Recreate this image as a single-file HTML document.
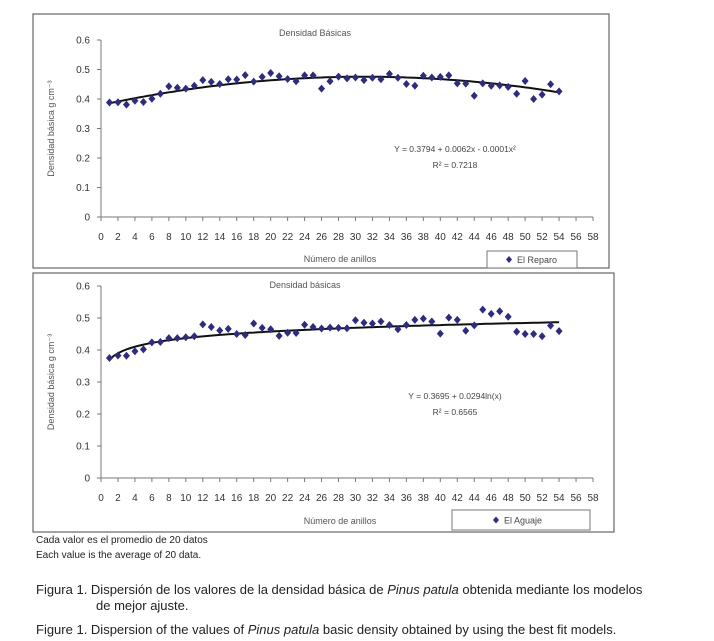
<!DOCTYPE html>
<html><head><meta charset="utf-8"><style>
body{margin:0;background:#fff;width:714px;height:641px;overflow:hidden;font-family:"Liberation Sans",sans-serif;}
svg{position:absolute;left:0;top:0}
.cap{position:absolute;color:#222;font-family:"Liberation Sans",sans-serif;white-space:nowrap}
</style></head><body>
<svg id="chart" width="714" height="641"></svg>
<div class="cap" style="left:36px;top:535px;font-size:10px">Cada valor es el promedio de 20 datos</div>
<div class="cap" style="left:36px;top:550px;font-size:10px">Each value is the average of 20 data.</div>
<div class="cap" style="left:36px;top:582px;font-size:13px;line-height:16px">Figura 1. Dispersión de los valores de la densidad básica de <i>Pinus patula</i> obtenida mediante los modelos<br><span style="padding-left:60px">de mejor ajuste.</span></div>
<div class="cap" style="left:36px;top:622px;font-size:13px">Figure 1. Dispersion of the values of <i>Pinus patula</i> basic density obtained by using the best fit models.</div>
<script>
const rings = Array.from({length:54},(_, i)=>i+1);
const reparoValues = [0.388,0.389,0.381,0.394,0.39,0.401,0.418,0.443,0.438,0.435,0.445,0.464,0.458,0.451,0.467,0.466,0.481,0.459,0.475,0.488,0.477,0.468,0.46,0.48,0.48,0.435,0.46,0.476,0.47,0.473,0.464,0.472,0.467,0.485,0.472,0.451,0.445,0.479,0.473,0.475,0.48,0.453,0.452,0.411,0.453,0.445,0.446,0.441,0.418,0.461,0.4,0.415,0.45,0.426];
const aguajeValues = [0.375,0.383,0.382,0.396,0.402,0.424,0.425,0.437,0.437,0.44,0.443,0.48,0.472,0.461,0.466,0.45,0.447,0.483,0.469,0.465,0.444,0.454,0.453,0.479,0.472,0.467,0.47,0.469,0.468,0.493,0.485,0.483,0.489,0.478,0.465,0.478,0.494,0.498,0.489,0.451,0.501,0.494,0.46,0.477,0.526,0.513,0.521,0.504,0.457,0.45,0.45,0.443,0.476,0.459];
const xTicks = [0,2,4,6,8,10,12,14,16,18,20,22,24,26,28,30,32,34,36,38,40,42,44,46,48,50,52,54,56,58];
const yTicks = [0,0.1,0.2,0.3,0.4,0.5,0.6];
const NS="http://www.w3.org/2000/svg";
const svg=document.getElementById('chart');
function el(tag,attrs,parent){const e=document.createElementNS(NS,tag);for(const k in attrs)e.setAttribute(k,attrs[k]);(parent||svg).appendChild(e);return e;}
function txt(x,y,s,size,anchor,fill,parent){const t=el('text',{x:x,y:y,'font-size':size,'text-anchor':anchor||'start',fill:fill||'#333','font-family':'Liberation Sans, sans-serif'},parent);t.textContent=s;return t;}
function drawChart(cfg){
  const g=el('g',{});
  
  
  const box=el('rect',{x:cfg.bx,y:cfg.by,width:cfg.bw,height:cfg.bh,fill:'#fff',stroke:'#666','stroke-width':1.2},g);
  
  
  const x0=101,x1=593;
  const xs=v=>x0+(v/58)*(x1-x0);
  const ys=v=>cfg.y0-(v/0.6)*(cfg.y0-cfg.yTop);
  el('line',{x1:x0,y1:cfg.yTop,x2:x0,y2:cfg.y0,stroke:'#777','stroke-width':1},g);
  el('line',{x1:x0,y1:cfg.y0,x2:x1,y2:cfg.y0,stroke:'#777','stroke-width':1},g);
  yTicks.forEach(v=>{el('line',{x1:x0-4,y1:ys(v),x2:x0,y2:ys(v),stroke:'#777'},g);
    const t=txt(90,ys(v)+3.5,v===0?'0':v.toFixed(1),10,'end','#333',g);
    });
  xTicks.forEach(v=>{el('line',{x1:xs(v),y1:cfg.y0,x2:xs(v),y2:cfg.y0+4,stroke:'#777'},g);
    const t=txt(xs(v),cfg.y0+23,String(v),10,'middle','#333',g);
    });
  const tt=txt(cfg.titleX,cfg.titleY,cfg.title,9,'middle','#555',g);
  
  const xt=txt(340,cfg.xtY,'Número de anillos',9,'middle','#555',g);
  
  const yt=txt(0,0,'Densidad básica g cm⁻³',9,'middle','#555',g);
  yt.setAttribute('transform','translate(54,'+((cfg.yTop+cfg.y0)/2)+') rotate(-90)');
  
  let d='';
  for(let x=1;x<=54;x+=0.5){d+=(d?'L':'M')+xs(x).toFixed(1)+','+ys(cfg.fit(x)).toFixed(1);}
  const fl=el('path',{d:d,fill:'none',stroke:'#111','stroke-width':2},g);
  
  cfg.values.forEach((v,i)=>{const cx=xs(rings[i]),cy=ys(v);
    const p=el('polygon',{points:`${cx},${cy-4} ${cx+3.5},${cy} ${cx},${cy+4} ${cx-3.5},${cy}`,fill:'#2e2c7c'},g);
    });
  const e1=txt(cfg.eqX,cfg.eqY,cfg.eq,8.5,'middle','#444',g);
  
  const e2=txt(cfg.eqX,cfg.eqY+16,cfg.r2,8.5,'middle','#444',g);
  
  const lg=el('g',{},g);
  
  el('rect',{x:cfg.lx,y:cfg.ly,width:cfg.lw,height:cfg.lh,fill:'#fff',stroke:'#777'},lg);
  const mx=cfg.lx+cfg.mk, my=cfg.ly+cfg.lh/2;
  el('polygon',{points:`${mx},${my-3.5} ${mx+3},${my} ${mx},${my+3.5} ${mx-3},${my}`,fill:'#2e2c7c'},lg);
  txt(mx+8,my+3.5,cfg.legend,9,'start','#444',lg);
}
drawChart({name:'chart-el-reparo',bx:33,by:14,bw:576,bh:254,y0:217,yTop:40,title:'Densidad Básicas',titleX:315,titleY:36,xtY:262,values:reparoValues,
  fit:x=>0.3794+0.0062*x-0.0001*x*x,eq:'Y = 0.3794 + 0.0062x - 0.0001x²',r2:'R² = 0.7218',eqX:455,eqY:152,lx:487,ly:251,lw:90,lh:17,mk:22,legend:'El Reparo'});
drawChart({name:'chart-el-aguaje',bx:33,by:273,bw:581,bh:259,y0:478,yTop:286,title:'Densidad básicas',titleX:305,titleY:288,xtY:524,values:aguajeValues,
  fit:x=>0.3695+0.0294*Math.log(x),eq:'Y = 0.3695 + 0.0294ln(x)',r2:'R² = 0.6565',eqX:455,eqY:399,lx:452,ly:510,lw:138,lh:20,mk:44,legend:'El Aguaje'});
</script>
</body></html>
